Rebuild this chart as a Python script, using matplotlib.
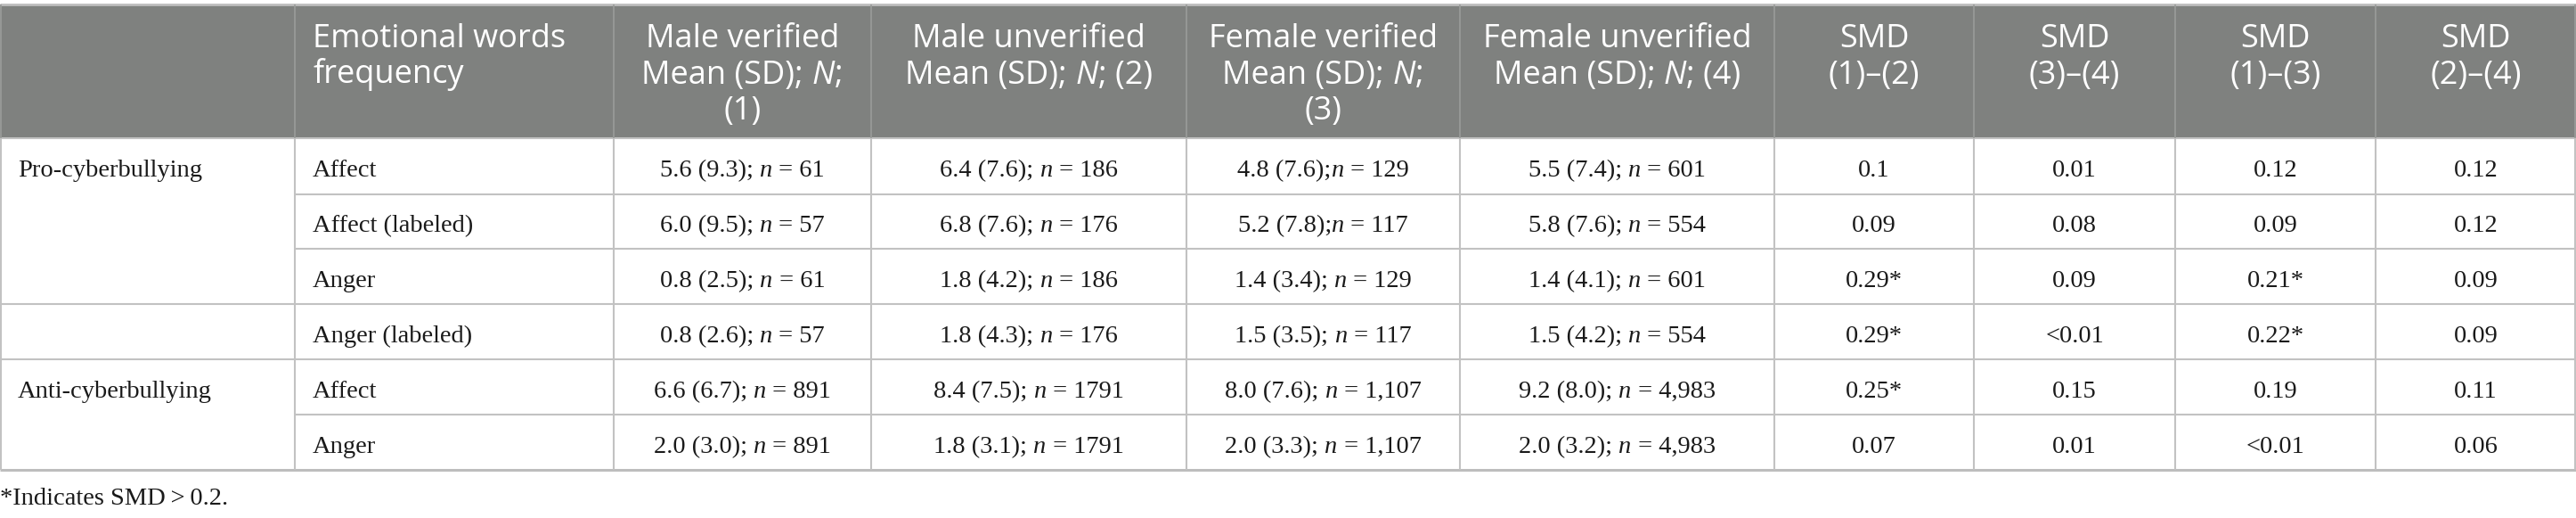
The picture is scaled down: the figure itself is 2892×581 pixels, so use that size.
import matplotlib
matplotlib.use("Agg")
import matplotlib.pyplot as plt

# ---------------- data ----------------
groups = ["Pro-cyberbullying", "", "", "", "Anti-cyberbullying", ""]
words = ["Affect", "Affect (labeled)", "Anger", "Anger (labeled)", "Affect", "Anger"]
male_verified = ["5.6 (9.3); n = 61", "6.0 (9.5); n = 57", "0.8 (2.5); n = 61",
                 "0.8 (2.6); n = 57", "6.6 (6.7); n = 891", "2.0 (3.0); n = 891"]
male_unverified = ["6.4 (7.6); n = 186", "6.8 (7.6); n = 176", "1.8 (4.2); n = 186",
                   "1.8 (4.3); n = 176", "8.4 (7.5); n = 1791", "1.8 (3.1); n = 1791"]
female_verified = ["4.8 (7.6);n = 129", "5.2 (7.8);n = 117", "1.4 (3.4); n = 129",
                   "1.5 (3.5); n = 117", "8.0 (7.6); n = 1,107", "2.0 (3.3); n = 1,107"]
female_unverified = ["5.5 (7.4); n = 601", "5.8 (7.6); n = 554", "1.4 (4.1); n = 601",
                     "1.5 (4.2); n = 554", "9.2 (8.0); n = 4,983", "2.0 (3.2); n = 4,983"]
smd_12 = ["0.1", "0.09", "0.29*", "0.29*", "0.25*", "0.07"]
smd_34 = ["0.01", "0.08", "0.09", "<0.01", "0.15", "0.01"]
smd_13 = ["0.12", "0.09", "0.21*", "0.22*", "0.19", "<0.01"]
smd_24 = ["0.12", "0.12", "0.09", "0.09", "0.11", "0.06"]
headers = ["", "Emotional words\nfrequency",
           "Male verified\nMean (SD); N;\n(1)",
           "Male unverified\nMean (SD); N; (2)",
           "Female verified\nMean (SD); N;\n(3)",
           "Female unverified\nMean (SD); N; (4)",
           "SMD\n(1)\u2013(2)", "SMD\n(3)\u2013(4)", "SMD\n(1)\u2013(3)", "SMD\n(2)\u2013(4)"]
footnote = "*Indicates SMD\u2009>\u20090.2."

# ---------------- layout ----------------
W, H = 2892, 581
col_edges = [0, 331, 689, 978, 1332, 1639, 1992, 2216, 2442, 2667, 2892]
row_edges = [5, 155, 218, 279, 341, 403, 465, 527]
HEAD_BG = "#7f817f"
LINE = "#c2c2c2"
SERIF = "Liberation Serif"
SANS = "Open Sans"
BODY_SIZE = 20.5
HEAD_SIZE = 26
TEXT = "#1a1a1a"

fig = plt.figure(figsize=(W / 100, H / 100), dpi=100)
ax = fig.add_axes([0, 0, 1, 1])
ax.set_xlim(0, W)
ax.set_ylim(H, 0)
ax.axis("off")
fig.canvas.draw()
renderer = fig.canvas.get_renderer()


def segs_from(s, italic_char):
    """split a string so that the italic_char following ';' is italic"""
    for marker in ["; " + italic_char, ";" + italic_char]:
        if marker in s:
            i = s.index(marker) + len(marker) - 1
            return [(s[:i], "normal"), (italic_char, "italic"), (s[i + 1:], "normal")]
    return [(s, "normal")]


def rich(x, y, segs, ha, family, size, color):
    texts = []
    for txt, style in segs:
        t = ax.text(0, y, txt, family=family, fontsize=size, style=style,
                    color=color, ha="left", va="baseline")
        texts.append(t)
    widths = [t.get_window_extent(renderer).width for t in texts]
    total = sum(widths)
    x0 = x - total / 2 if ha == "center" else x
    for t, w in zip(texts, widths):
        t.set_x(x0)
        x0 += w


# header background
ax.fill_between([col_edges[0], col_edges[-1]], row_edges[0], row_edges[1],
                color=HEAD_BG, linewidth=0, zorder=0)

# header text
for c, h in enumerate(headers):
    if not h:
        continue
    for li, line in enumerate(h.split("\n")):
        yb = 53 + li * 40.5
        if c == 1:
            rich(col_edges[c] + 20, yb, [(line, "normal")], "left", SANS, HEAD_SIZE, "white")
        else:
            rich((col_edges[c] + col_edges[c + 1]) / 2, yb, segs_from(line, "N"),
                 "center", SANS, HEAD_SIZE, "white")

# body
cols = [male_verified, male_unverified, female_verified, female_unverified,
        smd_12, smd_34, smd_13, smd_24]
for r in range(len(words)):
    yb = (row_edges[r + 1] + row_edges[r + 2]) / 2 + 12
    if groups[r]:
        rich(col_edges[0] + 20, yb, [(groups[r], "normal")], "left", SERIF, BODY_SIZE, TEXT)
    rich(col_edges[1] + 20, yb, [(words[r], "normal")], "left", SERIF, BODY_SIZE, TEXT)
    for k, col in enumerate(cols):
        c = k + 2
        rich((col_edges[c] + col_edges[c + 1]) / 2, yb, segs_from(col[r], "n"),
             "center", SERIF, BODY_SIZE, TEXT)

# grid lines
top, hb, bottom = row_edges[0], row_edges[1], row_edges[-1]
ax.plot([0, W], [top, top], color="#bdbdbd", lw=2, solid_capstyle="butt")
ax.plot([0, W], [bottom, bottom], color="#bdbdbd", lw=2.2, solid_capstyle="butt")
ax.plot([0, W], [hb, hb], color=LINE, lw=1.5, solid_capstyle="butt")
for r in range(2, len(row_edges) - 1):
    y = row_edges[r]
    x_start = 0 if r in (4, 5) else col_edges[1]
    ax.plot([x_start, W], [y, y], color=LINE, lw=1.5, solid_capstyle="butt")
for x in col_edges:
    xx = min(max(x, 1), W - 1)
    ax.plot([xx, xx], [hb, bottom], color=LINE, lw=1.5, solid_capstyle="butt")
    ax.plot([xx, xx], [top, hb], color="#9a9c9a", lw=1.2, solid_capstyle="butt")

# footnote
rich(0, 566, [(footnote, "normal")], "left", SERIF, BODY_SIZE, TEXT)

fig.savefig("out.png", dpi=100, facecolor="white")
